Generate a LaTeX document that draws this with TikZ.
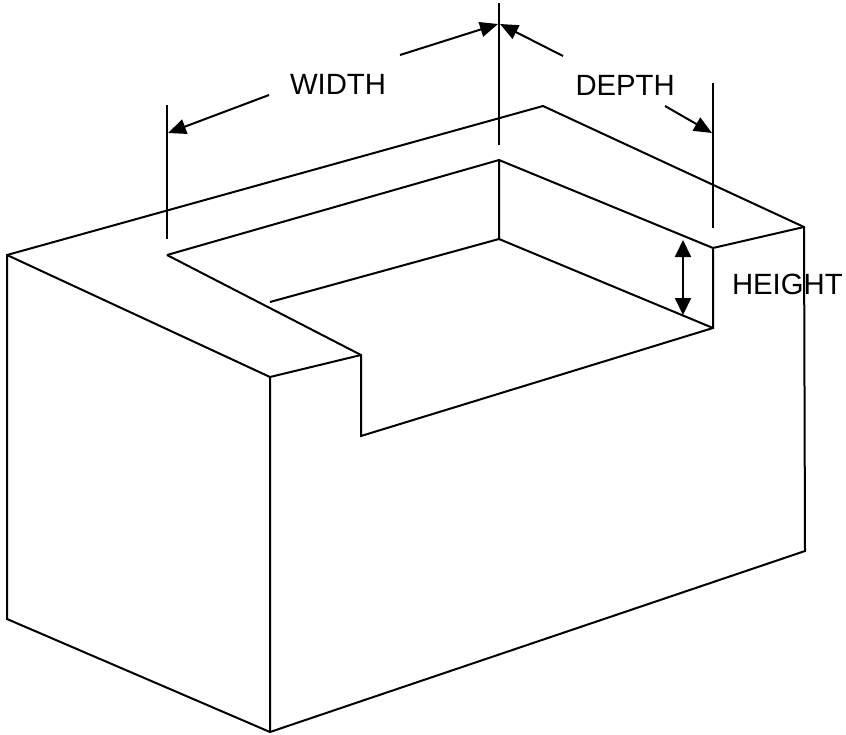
\documentclass[tikz,border=0pt]{standalone}
\usepackage{fontspec}
\setmainfont{Liberation Sans}
\usetikzlibrary{arrows.meta}
\begin{document}
\begin{tikzpicture}[x=1pt,y=-1pt,line width=2pt,
    every node/.style={inner sep=0pt,font=\fontsize{29.3}{35}\selectfont},
    dimarrow/.style={-{Triangle[length=18pt,width=15pt]}},
    dimboth/.style={{Triangle[length=17pt,width=16pt]}-{Triangle[length=17pt,width=16pt]}}]
            \useasboundingbox (0,0) rectangle (846,734);
            % block corners
            \coordinate (A) at (7,255);
            \coordinate (B) at (543,106);
            \coordinate (C) at (804,227);
            \coordinate (D) at (270,377);
            \coordinate (E) at (361,355);
            \coordinate (F) at (361,436);
            \coordinate (G) at (713,248);
            \coordinate (H) at (713,328);
            \coordinate (I) at (167,255);
            \coordinate (J) at (499,160);
            \coordinate (K) at (499,239);
            \coordinate (L) at (270,302);
            \coordinate (M) at (7,619);
            \coordinate (N) at (270,732);
            \coordinate (O) at (805,551);
            \draw (A) -- (B) -- (C) -- (O) -- (N) -- (M) -- cycle;
            \draw (A) -- (D) -- (N);
            \draw (D) -- (E);
            \draw (I) -- (E) -- (F) -- (H) -- (G) -- (C);
            \draw (I) -- (J) -- (G);
            \draw (J) -- (K) -- (H);
            \draw (L) -- (K);
            % extension lines
            \coordinate (W1) at (167,105);
            \coordinate (W2) at (167,239);
            \coordinate (V1) at (499,3);
            \coordinate (V2) at (499,145);
            \coordinate (P1) at (713,83);
            \coordinate (P2) at (713,228);
            \draw (W1) -- (W2);
            \draw (V1) -- (V2);
            \draw (P1) -- (P2);
            % labels
            \node (width) [anchor=base west] at (289,94.5) {WIDTH};
            \node (depth) [anchor=base west] at (574.5,95.7) {DEPTH};
            \node (height) [anchor=base west] at (731,294.3) {HEIGHT};
            % dimension arrows
            \coordinate (w1) at (269,95);
            \coordinate (w2) at (400,55);
            \coordinate (d1) at (563,56);
            \coordinate (d2) at (665,106);
            \coordinate (tw) at (168,133);
            \coordinate (tv1) at (498,24);
            \coordinate (tv2) at (500,24);
            \coordinate (td) at (712,133);
            \coordinate (h1) at (683,240);
            \coordinate (h2) at (683,315);
            \draw [dimarrow] (w1) -- (tw);
            \draw [dimarrow] (w2) -- (tv1);
            \draw [dimarrow] (d1) -- (tv2);
            \draw [dimarrow] (d2) -- (td);
            \draw [dimboth] (h1) -- (h2);
\end{tikzpicture}
\end{document}
